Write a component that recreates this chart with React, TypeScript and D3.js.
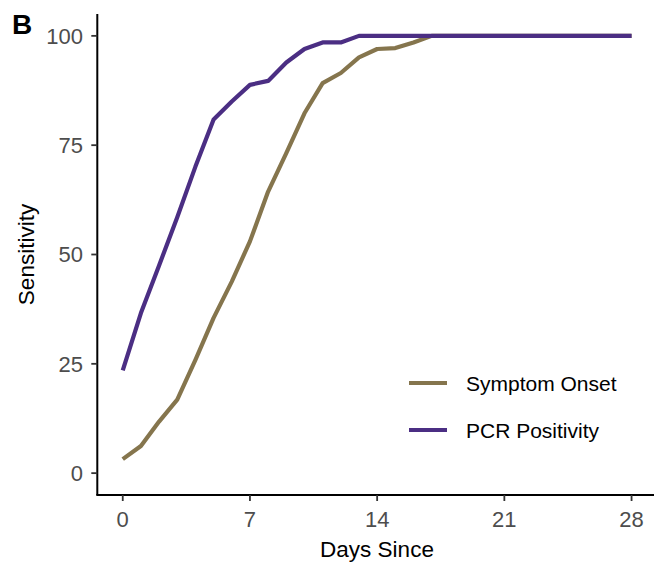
import React from "react";
import * as d3 from "d3";

const days = [0,1,2,3,4,5,6,7,8,9,10,11,12,13,14,15,16,17,18,19,20,21,22,23,24,25,26,27,28];
const symptomOnset = [3.2,6.2,11.8,16.8,25.9,35.5,43.8,53,64.4,73.2,82.3,89.2,91.5,95.1,97,97.2,98.5,100,100,100,100,100,100,100,100,100,100,100,100];
const pcrPositivity = [23.5,36.6,47.5,58.5,70.1,80.9,85,88.8,89.7,93.9,97,98.5,98.5,100,100,100,100,100,100,100,100,100,100,100,100,100,100,100,100];
const xTicks = [0,7,14,21,28];
const yTicks = [0,25,50,75,100];
const seriesNames = ["Symptom Onset","PCR Positivity"];
const seriesColors = ["#85754D","#4B2E83"];

export default function App() {
  const W = 654, H = 562;
  const left = 97.3, right = 657, top = 14, bottom = 495;
  const x = d3.scaleLinear().domain([-1.4, 29.4]).range([left, right]);
  const y = d3.scaleLinear().domain([-5, 105]).range([bottom, top]);
  const line = d3.line<number>().x((_, i) => x(days[i])).y((v) => y(v));
  const series = [symptomOnset, pcrPositivity];
  const font = "'Liberation Sans', Arial, Helvetica, sans-serif";
  return (
    <svg width={W} height={H} style={{ position: "absolute", left: 0, top: 0, fontFamily: font }}>
      <rect width={W} height={H} fill="#fff" />
      {series.map((s, i) => (
        <path key={i} d={line(s) || ""} fill="none" stroke={seriesColors[i]} strokeWidth={4.2} strokeLinejoin="round" />
      ))}
      <line x1={left} x2={left} y1={top} y2={bottom} stroke="#000" strokeWidth={2} />
      <line x1={left - 1} x2={W} y1={bottom} y2={bottom} stroke="#000" strokeWidth={2} />
      {yTicks.map((t) => (
        <g key={t}>
          <line x1={left - 6} x2={left} y1={y(t)} y2={y(t)} stroke="#333" strokeWidth={1.8} />
          <text x={83} y={y(t)} dy="0.36em" textAnchor="end" fontSize={22} fill="#4d4d4d">{t}</text>
        </g>
      ))}
      {xTicks.map((t) => (
        <g key={t}>
          <line x1={x(t)} x2={x(t)} y1={bottom} y2={bottom + 6} stroke="#333" strokeWidth={1.8} />
          <text x={x(t)} y={527} textAnchor="middle" fontSize={22} fill="#4d4d4d">{t}</text>
        </g>
      ))}
      <text x={377} y={557} textAnchor="middle" fontSize={22.5} fill="#000">Days Since</text>
      <text transform={`translate(34,${y(50)}) rotate(-90)`} textAnchor="middle" fontSize={22.5} fill="#000">Sensitivity</text>
      <text x={12} y={34} fontSize={28} fontWeight="bold" fill="#000">B</text>
      {seriesNames.map((n, i) => (
        <g key={n}>
          <line x1={409} x2={447} y1={383 + i * 47} y2={383 + i * 47} stroke={seriesColors[i]} strokeWidth={4.2} />
          <text x={466} y={383 + i * 47} dy="0.36em" fontSize={21} fill="#000">{n}</text>
        </g>
      ))}
    </svg>
  );
}
